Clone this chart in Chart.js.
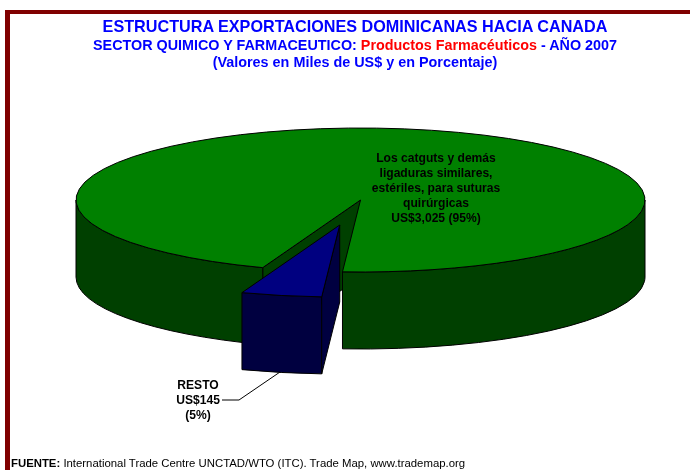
<!DOCTYPE html>
<html lang="es">
<head>
<meta charset="utf-8">
<title>Exportaciones dominicanas hacia Canada</title>
<script src="https://cdn.jsdelivr.net/npm/chart.js@4"></script>
<style>
    body { margin: 0; background: #fff; font-family: "Liberation Sans", Arial, sans-serif; }
    #grafico { position: relative; width: 690px; height: 470px; overflow: hidden; }
    #marco { position: absolute; left: 5px; top: 10px; right: 0; bottom: 0; border-left: 5px solid #800000; border-top: 4px solid #800000; }
    canvas { position: absolute; left: 0; top: 0; }
    .titulo { position: absolute; left: 10px; width: 690px; text-align: center; font-weight: bold; color: #0000ff; white-space: nowrap; }
    .titulo span { color: #ff0000; }
    #fuente { position: absolute; left: 11px; top: 457px; font-size: 11.37px; color: #000; white-space: nowrap; }
</style>
</head>
<body>
<div id="grafico">
    <div id="marco"></div>
    <canvas id="canvas_pastel" width="690" height="470"></canvas>
    <div class="titulo" style="top:17px;font-size:16.2px">ESTRUCTURA EXPORTACIONES DOMINICANAS HACIA CANADA</div>
    <div class="titulo" style="top:37px;font-size:14.35px">SECTOR QUIMICO Y FARMACEUTICO: <span>Productos Farmacéuticos</span> - AÑO 2007</div>
    <div class="titulo" style="top:54px;font-size:14.4px">(Valores en Miles de US$ y en Porcentaje)</div>
    <div id="fuente"><b>FUENTE:</b> International Trade Centre UNCTAD/WTO (ITC). Trade Map, www.trademap.org</div>
</div>

<script>
// datos
const categorias = ['Los catguts y demás ligaduras similares, estériles, para suturas quirúrgicas', 'RESTO'];
const valores = [3025, 145];
const porcentajes = [95, 5];

// lineas de cada etiqueta, como salen en el original
const lineasCategorias = [
    ['Los catguts y demás', 'ligaduras similares,', 'estériles, para suturas', 'quirúrgicas'],
    ['RESTO']
];

const coloresTapa = ['#008000', '#000080'];
const coloresPared = ['#004000', '#000040'];

const ROTACION = 200.1;     // grados, donde empieza la porcion verde
const ALTURA = 77;          // grosor del pastel en px
const SEPARACION = [0, 0.355];  // cuanto sale cada porcion, en radios
const POS_ETIQUETA = [{ x: 436, y: 159 }, { x: 198, y: 386 }];
const GUIA = [[280, 372], [239, 400], [222, 400]];

function textoEtiqueta(i) {
    return [...lineasCategorias[i], `US$${valores[i].toLocaleString('en-US')}`];
}

// dibuja el pastel en falso 3D a partir de los arcos de Chart.js
const pastel3d = {
    id: 'pastel3d',
    beforeDatasetsDraw(chart) {
        const ctx = chart.ctx;
        const arcos = chart.getDatasetMeta(0).data;
        const rx = chart.chartArea.width / 2;
        const ry = chart.chartArea.height / 2;

        function datosArco(i) {
            const arco = arcos[i];
            const medio = (arco.startAngle + arco.endAngle) / 2;
            return {
                arco,
                x: arco.x + Math.cos(medio) * SEPARACION[i] * rx,
                y: arco.y + Math.sin(medio) * SEPARACION[i] * ry
            };
        }

        function pintar(color) {
            ctx.fillStyle = color;
            ctx.fill();
            ctx.strokeStyle = '#000';
            ctx.lineWidth = 1;
            ctx.stroke();
        }

        // pared curva entre dos angulos
        function pared(d, a0, a1, color) {
            ctx.beginPath();
            ctx.ellipse(d.x, d.y, rx, ry, 0, a0, a1);
            ctx.ellipse(d.x, d.y + ALTURA, rx, ry, 0, a1, a0, true);
            ctx.closePath();
            pintar(color);
        }

        // cara plana del corte, del centro al borde
        function corte(d, angulo, color) {
            const bx = d.x + Math.cos(angulo) * rx;
            const by = d.y + Math.sin(angulo) * ry;
            ctx.beginPath();
            ctx.moveTo(d.x, d.y);
            ctx.lineTo(bx, by);
            ctx.lineTo(bx, by + ALTURA);
            ctx.lineTo(d.x, d.y + ALTURA);
            ctx.closePath();
            pintar(color);
        }

        // tapa: el arco de Chart.js estirado en x, y su contorno sin deformar
        function tapa(d) {
            const a = d.arco;
            const escala = rx / a.outerRadius;
            ctx.save();
            ctx.translate(d.x, d.y);
            ctx.scale(escala, ry / a.outerRadius);
            ctx.translate(-a.x, -a.y);
            a.draw(ctx);
            ctx.restore();
            ctx.beginPath();
            ctx.moveTo(d.x, d.y);
            ctx.ellipse(d.x, d.y, rx, ry, 0, a.startAngle, a.endAngle);
            ctx.closePath();
            ctx.strokeStyle = '#000';
            ctx.lineWidth = 1;
            ctx.stroke();
        }

        const verde = datosArco(0);
        const azul = datosArco(1);
        const finVerde = verde.arco.endAngle - 2 * Math.PI;

        corte(verde, verde.arco.startAngle, coloresPared[0]);
        pared(verde, 0, finVerde, coloresPared[0]);
        pared(verde, verde.arco.startAngle, Math.PI, coloresPared[0]);
        tapa(verde);

        pared(azul, azul.arco.startAngle, azul.arco.endAngle, coloresPared[1]);
        corte(azul, azul.arco.startAngle, coloresPared[1]);
        tapa(azul);

        return false;
    },
    // las etiquetas van en afterDraw porque beforeDatasetsDraw cancela el resto
    afterDraw(chart) {
        const ctx = chart.ctx;

        // linea guia de RESTO
        ctx.beginPath();
        GUIA.forEach(function (p, i) {
            if (i == 0) ctx.moveTo(p[0], p[1]);
            else ctx.lineTo(p[0], p[1]);
        });
        ctx.strokeStyle = '#000';
        ctx.lineWidth = 1;
        ctx.stroke();

        ctx.fillStyle = '#000';
        ctx.font = 'bold 12.1px "Liberation Sans", Arial, sans-serif';
        ctx.textAlign = 'center';
        ctx.textBaseline = 'middle';

        categorias.forEach(function (c, i) {
            let lineas = textoEtiqueta(i);
            let p = POS_ETIQUETA[i];
            if (i == 0) {
                lineas[lineas.length - 1] += ` (${porcentajes[i]}%)`;
            } else {
                lineas.push(`(${porcentajes[i]}%)`);
            }
            lineas.forEach(function (l, n) {
                ctx.fillText(l, p.x, p.y + n * 15);
            });
        });
    }
};

new Chart(document.getElementById('canvas_pastel'), {
    type: 'pie',
    data: {
        labels: categorias,
        datasets: [{
            data: valores,
            backgroundColor: coloresTapa,
            borderWidth: 0
        }]
    },
    options: {
        responsive: false,
        animation: false,
        rotation: ROTACION,
        layout: { padding: { left: 76, right: 45, top: 128, bottom: 198 } },
        plugins: {
            legend: { display: false },
            tooltip: { enabled: false }
        }
    },
    plugins: [pastel3d]
});
</script>
</body>
</html>
